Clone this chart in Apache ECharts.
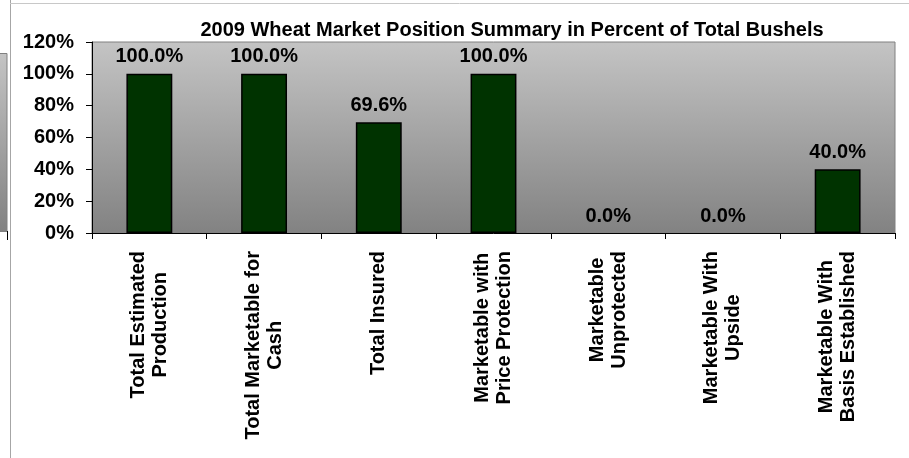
<!DOCTYPE html>
<html>
<head>
<meta charset="utf-8">
<script src="https://cdn.jsdelivr.net/npm/echarts@6/dist/echarts.min.js"></script>
<style>
  html, body { margin: 0; padding: 0; background: #fff; }
  #chart { width: 909px; height: 458px; }
</style>
</head>
<body>
<div id="chart"></div>
<script>
const categories = [
  'Total Estimated\nProduction',
  'Total Marketable for\nCash',
  'Total Insured',
  'Marketable with\nPrice Protection',
  'Marketable\nUnprotected',
  'Marketable With\nUpside',
  'Marketable With\nBasis Established'
];
const percentValues = [100, 100, 69.6, 100, 0, 0, 40];
const yTicks = [0, 20, 40, 60, 80, 100, 120];

const font = '"Liberation Sans", Arial, sans-serif';
const chart = echarts.init(document.getElementById('chart'));

// excel-style grey panel gradient
const panelFill = () => new echarts.graphic.LinearGradient(0, 0, 0, 1, [
  { offset: 0, color: '#c4c4c4' },
  { offset: 1, color: '#828282' }
]);

// zero-height bars get no outline
const barData = percentValues.map(v => (v === 0 ? { value: v, itemStyle: { borderWidth: 0 } } : v));

const options = {
  animation: false,
  title: {
    text: '2009 Wheat Market Position Summary in Percent of Total Bushels',
    left: 507,
    textAlign: 'center',
    top: 15,
    textStyle: { fontFamily: font, fontWeight: 'bold', fontSize: 20, color: '#000' }
  },
  grid: {
    left: 92,
    right: 14,
    top: 42,
    bottom: 225,
    show: true,
    backgroundColor: panelFill(),
    borderColor: '#808080',
    borderWidth: 1
  },
  xAxis: {
    type: 'category',
    data: categories,
    axisLine: { lineStyle: { color: '#000', width: 1 } },
    axisTick: { show: true, length: 6, lineStyle: { color: '#000' } },
    axisLabel: {
      rotate: 90,
      interval: 0,
      margin: 18,
      formatter: (v) => v.split('\n').map(s => '{a|' + s + '}').join('\n'),
      rich: {
        a: { align: 'center', fontFamily: font, fontWeight: 'bold', fontSize: 20, color: '#000', lineHeight: 22 }
      }
    }
  },
  yAxis: {
    type: 'value',
    min: yTicks[0],
    max: yTicks[yTicks.length - 1],
    interval: yTicks[1] - yTicks[0],
    splitLine: { show: false },
    axisLine: { show: true, lineStyle: { color: '#000', width: 1 } },
    axisTick: { show: true, length: 6, lineStyle: { color: '#000' } },
    axisLabel: {
      margin: 18,
      formatter: '{value}%',
      fontFamily: font,
      fontWeight: 'bold',
      fontSize: 20,
      color: '#000'
    }
  },
  series: [
    {
      type: 'bar',
      data: barData,
      barWidth: '40%',
      itemStyle: { color: '#003300', borderColor: '#000', borderWidth: 1.5 },
      label: {
        show: true,
        position: 'top',
        distance: 7,
        formatter: (p) => p.value.toFixed(1) + '%',
        fontFamily: font,
        fontWeight: 'bold',
        fontSize: 20,
        color: '#000'
      }
    }
  ],
  graphic: [
    { type: 'line', shape: { x1: 10.5, y1: 0, x2: 10.5, y2: 458 }, style: { stroke: '#a6a6a6', lineWidth: 1 } },
    { type: 'line', shape: { x1: 10, y1: 3.5, x2: 909, y2: 3.5 }, style: { stroke: '#c8c8c8', lineWidth: 1 } },
    {
      type: 'rect',
      shape: { x: -1, y: 53.5, width: 8, height: 178 },
      style: { fill: panelFill(), stroke: '#808080', lineWidth: 1 }
    },
    { type: 'line', shape: { x1: 7.5, y1: 231, x2: 7.5, y2: 240 }, style: { stroke: '#000', lineWidth: 1 } }
  ]
};

chart.setOption(options);
</script>
</body>
</html>
